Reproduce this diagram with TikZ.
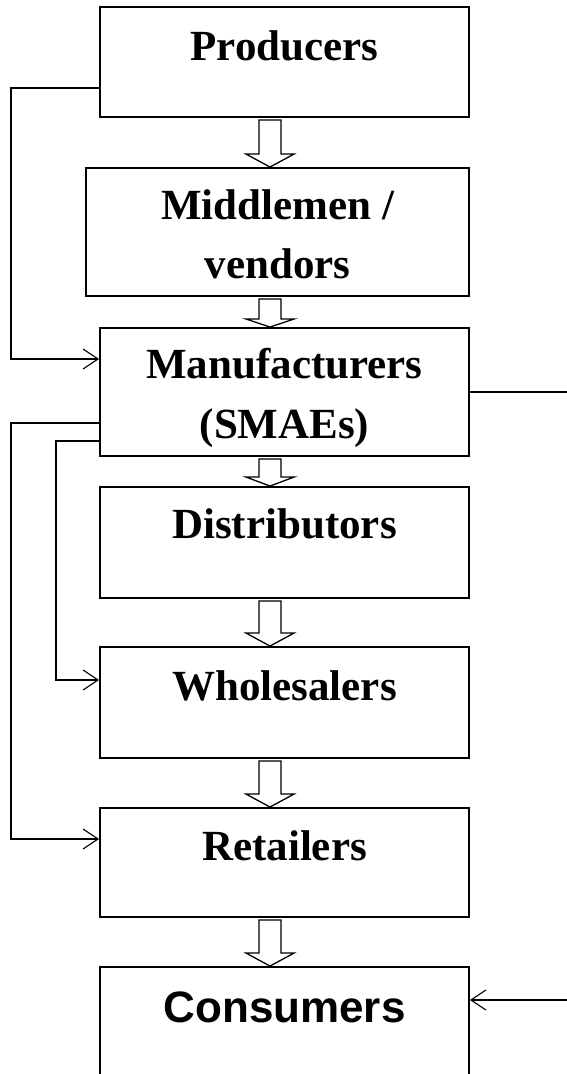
\documentclass[tikz,border=0pt]{standalone}
\usepackage{fontspec}
\setmainfont{Liberation Serif}
\newfontfamily\consfont{Liberation Sans}
\usetikzlibrary{arrows.meta,calc}
\newcommand\blockarr[3]{%
  \draw[barrowst] ($(#1.south -| ax)+(-11,2)$) -- ($(#2.north -| ax)+(-11,-#3)$) -- ($(#2.north -| ax)+(-24,-#3)$) -- (#2.north -| ax) -- ($(#2.north -| ax)+(24,-#3)$) -- ($(#2.north -| ax)+(11,-#3)$) -- ($(#1.south -| ax)+(11,2)$) -- cycle;}
\begin{document}
\begin{tikzpicture}[x=1pt,y=-1pt,
  box/.style={draw, line width=1.9pt, rectangle, inner sep=0pt},
  lbl/.style={font=\fontsize{43}{48}\selectfont\bfseries, anchor=base, inner sep=0pt},
  conn/.style={line width=1.7pt},
  tip/.style={-{Straight Barb[length=15pt,width=20pt,line width=1.1pt]}},
  barrowst/.style={draw, fill=white, line width=1.3pt, line join=miter}]
\useasboundingbox (0,0) rectangle (567,1074);
\clip (0,0) rectangle (567,1074);
\coordinate (ax) at (270,0);
% boxes
\node[box, minimum width=369pt, minimum height=110pt] (prod) at (284.5,62) {};
\node[box, minimum width=383pt, minimum height=128pt] (mid) at (277.5,232) {};
\node[box, minimum width=369pt, minimum height=128pt] (manu) at (284.5,392) {};
\node[box, minimum width=369pt, minimum height=111pt] (dist) at (284.5,542.5) {};
\node[box, minimum width=369pt, minimum height=111pt] (whol) at (284.5,702.5) {};
\node[box, minimum width=369pt, minimum height=109pt] (ret) at (284.5,862.5) {};
\node[box, minimum width=369pt, minimum height=123pt] (cons) at (284.5,1028.5) {};
% labels
\node[lbl] (tprod) at (284.5,60) {Producers};
\node[lbl] (tmid1) at (277.5,219) {Middlemen /};
\node[lbl] (tmid2) at (277.5,278) {vendors};
\node[lbl] (tmanu1) at (284.5,378) {Manufacturers};
\node[lbl] (tmanu2) at (284.5,438) {(SMAEs)};
\node[lbl] (tdist) at (284.5,538) {Distributors};
\node[lbl] (twhol) at (284.5,700) {Wholesalers};
\node[lbl] (tret) at (284.5,860) {Retailers};
\node[lbl, font=\consfont\fontsize{44}{50}\selectfont\bfseries] (tcons) at (284.5,1022) {Consumers};
% block arrows
\blockarr{prod}{mid}{13}
\blockarr{mid}{manu}{8}
\blockarr{manu}{dist}{9}
\blockarr{dist}{whol}{13}
\blockarr{whol}{ret}{13}
\blockarr{ret}{cons}{13}
% side connectors
\draw[conn,tip] ([yshift=-26pt]prod.west) -- ++(-88,0) |- ([yshift=33pt]manu.west);
\draw[conn,tip] ([yshift=-31pt]manu.west) -- ++(-88,0) |- ([yshift=23.5pt]ret.west);
\draw[conn,tip] ([yshift=-49pt]manu.west) -- ++(-43,0) |- ([yshift=22.5pt]whol.west);
\draw[conn,tip] (manu.east) -- ++(110,0) |- ([yshift=28.5pt]cons.east);
\end{tikzpicture}
\end{document}
